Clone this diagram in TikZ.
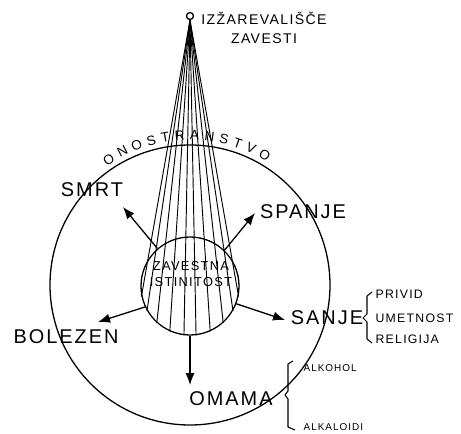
\documentclass[tikz,border=0pt]{standalone}
\usepackage{fontspec}
\setmainfont{Liberation Sans}
\newfontfamily\letfont[LetterSpace=10]{Liberation Sans}
\usetikzlibrary{arrows.meta,decorations.text}

\begin{document}
\begin{tikzpicture}[x=0.3mm, y=0.3mm, line width=1.1pt,
  arr/.style={-{Latex[length=3.6mm,width=2.8mm]}},
  fan/.style={line width=0.8pt},
  brk/.style={line width=0.9pt, line join=round},
  big/.style={font=\letfont\fontsize{17}{19}\selectfont, inner sep=0pt},
  mid/.style={font=\letfont\fontsize{11}{14}\selectfont, inner sep=0pt, align=center},
  small/.style={font=\letfont\fontsize{10.5}{12}\selectfont, inner sep=0pt, anchor=west},
  tiny/.style={font=\letfont\fontsize{8.5}{10}\selectfont, inner sep=0pt, anchor=west}]
  \useasboundingbox (0,0) rectangle (461,433);

  % Circles
  \node[circle, draw, minimum size=84mm, inner sep=0pt] (onost) at (190,148) {};
  \node[circle, draw, minimum size=29.4mm, inner sep=0pt] (ist) at (190,147) {};
  \node[mid] (istlbl) at (191,159) {ZAVESTNA\\ISTINITOST};

  % Text along the outer circle
  \path[decorate, decoration={text along path,
      text={|\fontsize{11.5}{13}\selectfont|ONOSTRANSTVO}, text align={fit to path}}]
    ([shift={(125:145)}]onost.center) arc (125:58:145);

  % Source and rays
  \node[circle, draw, minimum size=2.1mm, inner sep=0pt] (src) at (190,417) {};
  \node[mid, font=\letfont\fontsize{12}{15.5}\selectfont] (izz) at (264,405) {IZŽAREVALIŠČE\\ZAVESTI};
  \foreach \a in {192,210,228,246,263,277,294,312,330,348}
    \draw[fan] (src.south) -- (ist.\a);

  % Labels
  \node[big] (smrt) at (92,243) {SMRT};
  \node[big] (spanje) at (303,221) {SPANJE};
  \node[big] (bolezen) at (66,96) {BOLEZEN};
  \node[big] (sanje) at (327,115) {SANJE};
  \node[big] (omama) at (231,34) {OMAMA};

  \node[small] (privid) at (375,139) {PRIVID};
  \node[small] (umetnost) at (375,115) {UMETNOST};
  \node[small] (religija) at (375,94) {RELIGIJA};
  \node[tiny] (alkohol) at (303,65) {ALKOHOL};
  \node[tiny] (alkaloidi) at (303,6) {ALKALOIDI};

  % Arrows
  \coordinate (smrtTip) at (123,226);
  \coordinate (spanjeTip) at (255,220);
  \coordinate (bolezenTip) at (98,111);
  \coordinate (sanjeTip) at (285,113);
  \coordinate (omamaTip) at (190,48);
  \draw[arr] (ist.131) -- (smrtTip);
  \draw[arr] (ist.46) -- (spanjeTip);
  \draw[arr] (ist.205) -- (bolezenTip);
  \draw[arr] (ist.339) -- (sanjeTip);
  \draw[arr] (ist.270) -- (omamaTip);

  % Brackets
  \draw[brk] (372,141) -- (367,137) -- (367,119) -- (363,115) -- (367,111) -- (367,94) -- (372,90);
  \draw[brk] (293,72) -- (288,69) -- (288,42) -- (285,38) -- (288,34) -- (288,6) -- (295,3);
\end{tikzpicture}
\end{document}
